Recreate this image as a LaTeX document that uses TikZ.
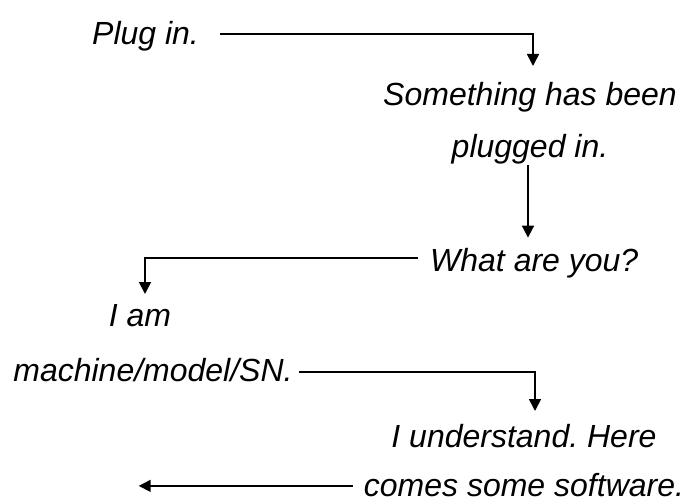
\documentclass[tikz,border=0pt]{standalone}
\usepackage{fontspec}
\setsansfont{Liberation Sans}
\usetikzlibrary{arrows.meta, positioning}

\begin{document}
\frenchspacing
\begin{tikzpicture}[
    x=1pt, y=-1pt,
    font=\sffamily\itshape\fontsize{32}{52}\selectfont,
    % Styles
    msg/.style = {inner sep=0pt, align=center},
    arrow/.style = {-{Triangle[length=12pt, width=12pt]}, line width=1.7pt, draw=black},
]
\useasboundingbox (0,0) rectangle (689,503);

% --- messages ---
\node[msg, anchor=base west] (plug) at (92,45) {Plug in.};
\node[msg, anchor=north] (seen) at (530,82) {Something has been\\plugged in.};
\node[msg, anchor=base west] (what) at (430,271) {What are you?};
\node[msg, anchor=north] (iam) at (153,304) {I am\hspace*{26pt}\\[3pt]machine/model/SN.};
\node[msg, anchor=north] (under) at (524,424) {I understand. Here\\[-3pt]comes some software.};

% --- connectors ---
\draw[arrow] ([xshift=21pt, yshift=3pt]plug.east) -| ([xshift=3pt, yshift=16pt]seen.north);
\draw[arrow] ([xshift=-2pt, yshift=-1pt]seen.south) -- ([xshift=-2pt, yshift=10pt]seen.south |- what.north);
\draw[arrow] ([xshift=-12pt, yshift=5pt]what.west) -| ([xshift=-8pt, yshift=10pt]iam.north);
\draw[arrow] ([xshift=6pt, yshift=10pt]iam.south east) -| ([xshift=11pt, yshift=13pt]under.north);
\draw[arrow] ([xshift=-11pt, yshift=11pt]under.south west) -- ++(-214,0);

\end{tikzpicture}
\end{document}
